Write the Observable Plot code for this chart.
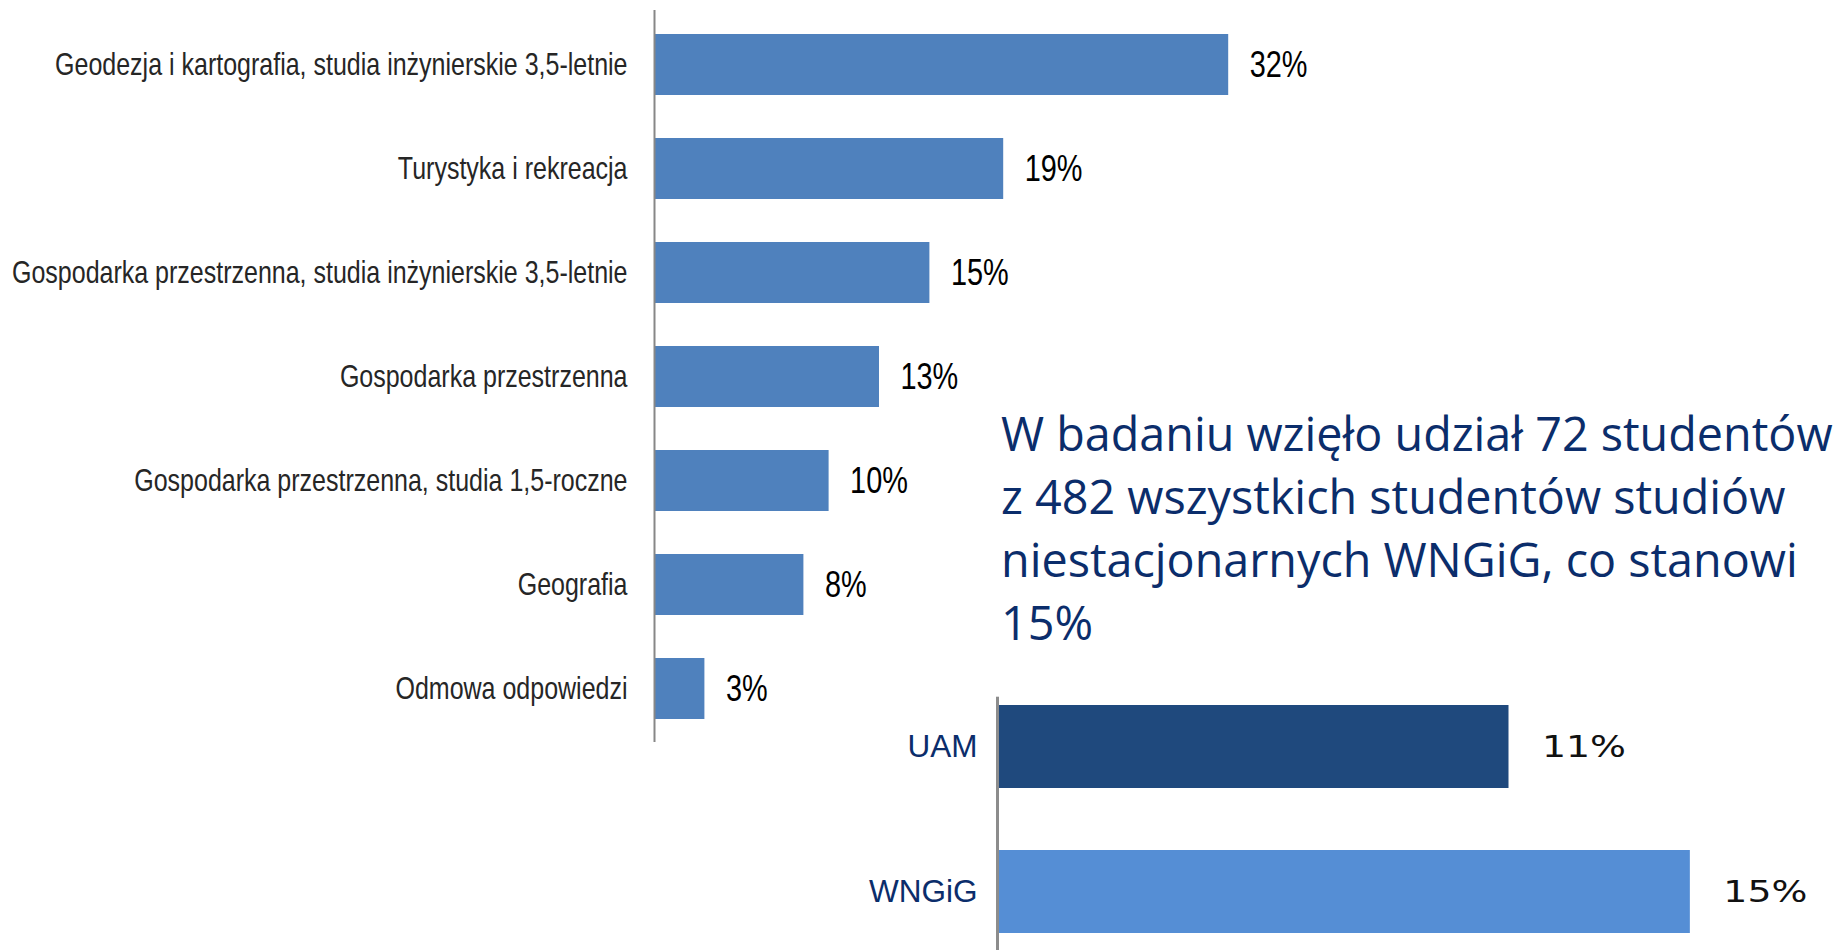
<!DOCTYPE html>
<html>
<head>
<meta charset="utf-8">
<script src="https://cdn.jsdelivr.net/npm/d3@7"></script>
<script src="https://cdn.jsdelivr.net/npm/@observablehq/plot@0.6"></script>
<style>
  html, body { margin: 0; padding: 0; background: #fff; }
  #page { position: relative; width: 1839px; height: 950px; overflow: hidden; background: #fff; }
  #top { position: absolute; left: 0; top: 0; }
  #bottom { position: absolute; left: 850px; top: 680px; }
  #note { position: absolute; left: 1001px; top: 402px; font-family: "Open Sans", sans-serif;
          font-size: 46.7px; line-height: 63px; color: #0b2d6b; white-space: pre; }
</style>
</head>
<body>
<div id="page">
  <div id="top"></div>
  <div id="note"></div>
  <div id="bottom"></div>
</div>
<script>
// ---- data ----
const fields = [
  "Geodezja i kartografia, studia inżynierskie 3,5-letnie",
  "Turystyka i rekreacja",
  "Gospodarka przestrzenna, studia inżynierskie 3,5-letnie",
  "Gospodarka przestrzenna",
  "Gospodarka przestrzenna, studia 1,5-roczne",
  "Geografia",
  "Odmowa odpowiedzi"
];
const shares = [31.9, 19.4, 15.3, 12.5, 9.7, 8.3, 2.8];
const shareLabels = ["32%", "19%", "15%", "13%", "10%", "8%", "3%"];

const units = ["UAM", "WNGiG"];
const unitShares = [11.0, 14.9];
const unitLabels = ["11%", "15%"];
const unitColors = ["#1F497D", "#558ED5"];

const noteLines = [
  "W badaniu wzięło udział 72 studentów",
  "z 482 wszystkich studentów studiów",
  "niestacjonarnych WNGiG, co stanowi",
  "15%"
];

// horizontal squeeze / stretch of text glyphs (the reference uses condensed / wide type)
function scaleTextX(svg, selector, sx) {
  svg.querySelectorAll(selector).forEach(t => {
    const tr = t.getAttribute("transform") || "";
    t.setAttribute("transform", tr + ` scale(${sx},1)`);
  });
}

// ---- top chart ----
const sans = '"Liberation Sans", Arial, sans-serif';
const topData = fields.map((f, i) => ({field: f, share: shares[i], label: shareLabels[i]}));

const topChart = Plot.plot({
  width: 1400,
  height: 743,
  marginLeft: 654,
  marginRight: 26,
  marginTop: 10,
  marginBottom: 1,
  style: {fontFamily: sans, fontSize: "30.5px", color: "#262626", background: "transparent"},
  x: {domain: [0, 40], axis: null},
  y: {domain: fields, paddingInner: 0.4165, paddingOuter: 0.2076, label: null},
  marks: [
    Plot.barX(topData, {x: "share", y: "field", fill: "#4F81BD"}),
    Plot.ruleX([0], {stroke: "#878787", strokeWidth: 2}),
    Plot.text(topData, {x: "share", y: "field", text: "label", textAnchor: "start", dx: 21,
                        fontSize: 37, fill: "#000"}),
    Plot.axisY({tickSize: 0, tickPadding: 27, fontSize: 30.5, label: null})
  ]
});
scaleTextX(topChart, 'g[aria-label$="tick label"] text', 0.82);
scaleTextX(topChart, 'g[aria-label="text"] text', 0.78);
document.getElementById("top").appendChild(topChart);

// ---- note ----
document.getElementById("note").textContent = noteLines.join("\n");

// ---- bottom chart ----
const botData = units.map((u, i) => ({unit: u, share: unitShares[i], label: unitLabels[i], color: unitColors[i]}));

const botChart = Plot.plot({
  width: 989,
  height: 270,
  marginLeft: 147,
  marginRight: 5,
  marginTop: 16.7,
  marginBottom: 0,
  style: {fontFamily: sans, fontSize: "31.5px", color: "#0b2d6b", background: "transparent"},
  x: {domain: [0, 18], axis: null},
  y: {domain: units, paddingInner: 0.428, paddingOuter: 0.0873, align: 0.327, label: null},
  color: {type: "identity"},
  marks: [
    Plot.barX(botData, {x: "share", y: "unit", fill: "color"}),
    Plot.ruleX([0], {stroke: "#8c8c8c", strokeWidth: 3}),
    Plot.text(botData, {x: "share", y: "unit", text: "label", textAnchor: "start", dx: 33,
                        fontFamily: '"DejaVu Sans", Verdana, sans-serif', fontSize: 31, fill: "#111"}),
    Plot.axisY({tickSize: 0, tickPadding: 20, fontSize: 31.5, label: null})
  ]
});
scaleTextX(botChart, 'g[aria-label="text"] text', 1.22);
document.getElementById("bottom").appendChild(botChart);
</script>
</body>
</html>
